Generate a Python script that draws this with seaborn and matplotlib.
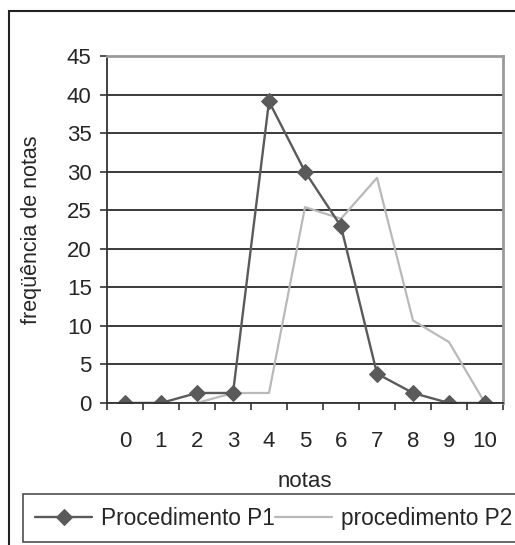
import pandas as pd
import seaborn as sns
import matplotlib.pyplot as plt
from matplotlib.patches import Rectangle
from matplotlib.ticker import MultipleLocator, FixedLocator

notas = [0, 1, 2, 3, 4, 5, 6, 7, 8, 9, 10]
freq_p1 = [0, 0, 1.3, 1.3, 39.1, 30.0, 22.9, 3.8, 1.3, 0, 0]
freq_p2 = [0, 0, 0, 1.3, 1.3, 25.4, 23.9, 29.2, 10.7, 7.9, 0]
labels = ['Procedimento P1', 'procedimento P2']

sns.set_style('white')
plt.rcParams['font.family'] = ['Liberation Sans', 'DejaVu Sans']
plt.rcParams['font.size'] = 15

W, H = 515, 545
fig = plt.figure(figsize=(W / 100, H / 100), dpi=100)
ax = fig.add_axes([107 / W, 1 - 403 / H, 396 / W, 347 / H])

df = pd.DataFrame({'notas': notas, 'P1': freq_p1, 'P2': freq_p2})

# curva clara primeiro, a escura por cima
sns.lineplot(data=df, x='notas', y='P2', ax=ax, color='#b9b9b9', lw=1.6,
             label=labels[1], legend=False)
sns.lineplot(data=df, x='notas', y='P1', ax=ax, color='#5a5a5a', lw=1.7,
             marker='D', markersize=7.8, markeredgecolor='#5a5a5a',
             label=labels[0], legend=False)

ax.set_xlim(-0.5, 10.5)
ax.set_ylim(0, 45)
ax.yaxis.set_major_locator(MultipleLocator(5))
ax.set_xticks(notas)
ax.xaxis.set_minor_locator(FixedLocator([i - 0.5 for i in range(12)]))
ax.tick_params(axis='x', which='major', length=0, pad=20, labelsize=16)
ax.tick_params(axis='x', which='minor', length=5, width=1.2, color='#333333',
               direction='out', bottom=True)
ax.tick_params(axis='y', length=5, width=1.2, color='#333333', pad=6,
               left=True, labelsize=16)

ax.grid(axis='y', color='#2a2a2a', lw=1.3)
ax.set_axisbelow(True)
for s in ['left', 'bottom']:
    ax.spines[s].set_color('#333333')
    ax.spines[s].set_linewidth(1.3)
for s in ['top', 'right']:
    ax.spines[s].set_color('#9a9a9a')
    ax.spines[s].set_linewidth(2)

ax.set_xlabel('notas', fontsize=16)
ax.set_ylabel('freqüência de notas', fontsize=15.5)
ax.xaxis.set_label_coords(0.5, -0.195)
ax.yaxis.set_label_coords(-0.165, 0.5)

handles, lbls = ax.get_legend_handles_labels()
order = [lbls.index(l) for l in labels]
leg = fig.legend([handles[i] for i in order], labels, ncol=2,
                 loc='lower left', bbox_to_anchor=(23 / W, 3 / H),
                 frameon=True, fancybox=False, fontsize=16.3,
                 handlelength=2.5, handletextpad=0.4, columnspacing=0.0,
                 borderpad=0.55, borderaxespad=0)
leg.get_frame().set_edgecolor('#222222')
leg.get_frame().set_linewidth(1.2)

# moldura externa (cortada à direita e embaixo)
fig.patches.append(Rectangle((9 / W, -0.1), 1.2, 1 - 11 / H + 0.1,
                             transform=fig.transFigure, fill=False,
                             edgecolor='#222222', lw=1.5))

fig.savefig('out.png', dpi=100)
